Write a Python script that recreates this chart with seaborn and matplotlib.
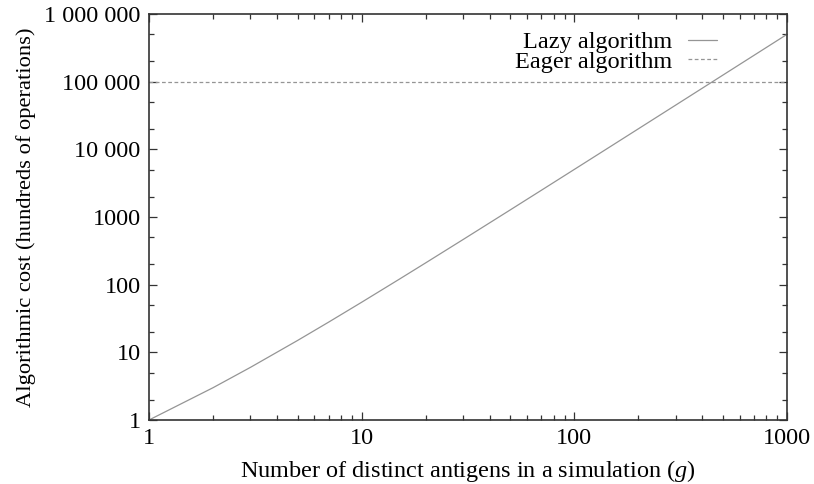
import matplotlib
matplotlib.use("Agg")
import matplotlib.pyplot as plt
import matplotlib.ticker as mticker
import seaborn as sns
import pandas as pd
import numpy as np

# Data
g_values = [1, 2, 3, 5, 7, 10, 15, 20, 30, 50, 70, 100, 150, 200, 300, 500, 700, 1000]
lazy_cost = [1, 3, 6, 15, 28, 55, 120, 210, 465, 1275, 2485, 5050, 11325, 20100, 45150, 125250, 245350, 500500]
eager_g = [1, 1000]
eager_cost = [100000, 100000]

y_ticks = [1, 10, 100, 1000, 10000, 100000, 1000000]
y_labels = ["1", "10", "100", "1000", "10 000", "100 000", "1 000 000"]
x_ticks = [1, 10, 100, 1000]
x_labels = ["1", "10", "100", "1000"]

sns.set_style("ticks")
plt.rcParams["font.family"] = ["Liberation Serif", "DejaVu Serif"]
plt.rcParams["mathtext.fontset"] = "custom"
plt.rcParams["mathtext.it"] = "Liberation Serif:italic"
plt.rcParams["mathtext.rm"] = "Liberation Serif"
plt.rcParams["text.color"] = "black"
plt.rcParams["axes.labelcolor"] = "black"
plt.rcParams["xtick.labelcolor"] = "black"
plt.rcParams["ytick.labelcolor"] = "black"

fig = plt.figure(figsize=(8.14, 4.84), dpi=100)
ax = fig.add_axes([149/814, 1 - 420/484, (787-149)/814, (420-14)/484])

df_lazy = pd.DataFrame({"g": g_values, "cost": lazy_cost})
df_eager = pd.DataFrame({"g": eager_g, "cost": eager_cost})
sns.lineplot(data=df_lazy, x="g", y="cost", ax=ax, color="#959595", lw=0.9, label="Lazy algorithm")
sns.lineplot(data=df_eager, x="g", y="cost", ax=ax, color="#959595", lw=0.9, ls=(0, (3, 2)), label="Eager algorithm")

ax.set_xscale("log")
ax.set_yscale("log")
ax.set_xlim(1, 1000)
ax.set_ylim(1, 1000000)

ax.xaxis.set_major_locator(mticker.FixedLocator(x_ticks))
ax.xaxis.set_major_formatter(mticker.FixedFormatter(x_labels))
ax.xaxis.set_minor_locator(mticker.LogLocator(base=10, subs=np.arange(2, 10)))
ax.xaxis.set_minor_formatter(mticker.NullFormatter())
ax.yaxis.set_major_locator(mticker.FixedLocator(y_ticks))
ax.yaxis.set_major_formatter(mticker.FixedFormatter(y_labels))
ax.yaxis.set_minor_locator(mticker.LogLocator(base=10, subs=[2, 5]))
ax.yaxis.set_minor_formatter(mticker.NullFormatter())

ax.tick_params(which="both", direction="in", top=True, right=True, color="#333333", labelcolor="black")
ax.tick_params(which="major", length=6, width=0.9, labelsize=17.5, pad=6)
ax.tick_params(which="minor", length=3.5, width=0.9)
for s in ax.spines.values():
    s.set_linewidth(1.2)
    s.set_color("#333333")

ax.set_xlabel("Number of distinct antigens in a simulation ($\\mathit{g}$)", fontsize=17.5, labelpad=6, color="black")
ax.set_ylabel("Algorithmic cost (hundreds of operations)", fontsize=16.2, labelpad=6, color="black")

leg = ax.legend(loc="upper right", bbox_to_anchor=(0.89, 0.958), frameon=False, markerfirst=False,
                fontsize=17.5, handlelength=1.2, handletextpad=0.65, labelspacing=-0.1, borderpad=0.0,
                borderaxespad=0.0)
for t in leg.get_texts():
    t.set_ha("right")
    t.set_color("black")

fig.savefig("out.png", dpi=100)
